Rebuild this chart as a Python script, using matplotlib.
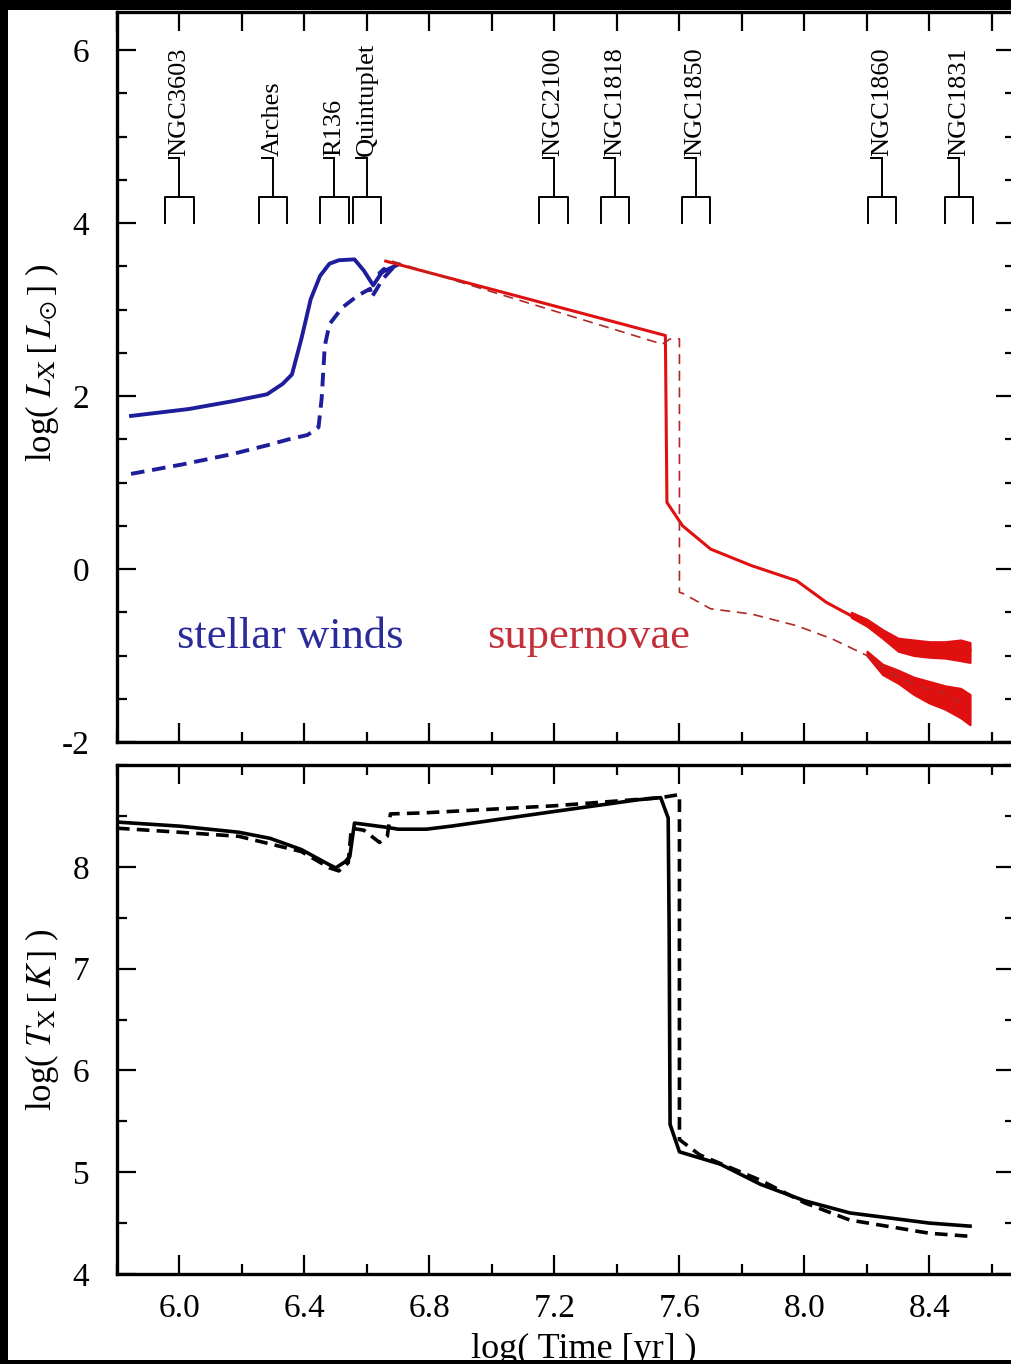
import numpy as np
import matplotlib.pyplot as plt
from matplotlib.patches import Rectangle
from matplotlib.ticker import MultipleLocator, FixedLocator

plt.rcParams['font.family'] = ['Liberation Serif', 'DejaVu Serif']
plt.rcParams['mathtext.fontset'] = 'stix'
plt.rcParams['axes.unicode_minus'] = False

# --- top panel: log L_X vs log age ---
wind_x = [5.845, 6.03, 6.17, 6.28, 6.33, 6.36, 6.39, 6.42, 6.45, 6.48, 6.51, 6.56, 6.59, 6.62, 6.655, 6.64, 6.70]
wind_y = [1.77, 1.85, 1.94, 2.02, 2.14, 2.25, 2.66, 3.12, 3.39, 3.53, 3.57, 3.58, 3.45, 3.28, 3.47, 3.42, 3.52]
wind2_x = [5.845, 6.01, 6.17, 6.28, 6.35, 6.41, 6.445, 6.455, 6.465, 6.48, 6.52, 6.57, 6.61, 6.615, 6.65, 6.685]
wind2_y = [1.10, 1.21, 1.33, 1.43, 1.50, 1.55, 1.64, 1.97, 2.58, 2.83, 3.02, 3.16, 3.24, 3.14, 3.35, 3.49]

sn_x = [6.66, 7.555, 7.56, 7.61, 7.70, 7.83, 7.975, 8.07, 8.17, 8.25, 8.32, 8.39, 8.53]
sn_y = [3.56, 2.70, 0.77, 0.50, 0.23, 0.04, -0.135, -0.385, -0.58, -0.77, -0.92, -0.91, -0.94]
sn2_x = [6.68, 7.545, 7.57, 7.60, 7.60, 7.61, 7.70, 7.83, 7.975, 8.09, 8.20, 8.27, 8.36, 8.44, 8.52]
sn2_y = [3.56, 2.60, 2.66, 2.66, -0.27, -0.28, -0.46, -0.52, -0.655, -0.81, -1.0, -1.19, -1.35, -1.43, -1.58]

# noisy tails (envelopes)
tail_x = [8.15, 8.20, 8.25, 8.30, 8.35, 8.40, 8.45, 8.50, 8.53]
tail_lo = [-0.56, -0.66, -0.80, -0.95, -1.00, -1.02, -1.03, -1.06, -1.08]
tail_hi = [-0.50, -0.58, -0.70, -0.80, -0.82, -0.84, -0.84, -0.82, -0.85]
tail2_x = [8.20, 8.25, 8.30, 8.35, 8.40, 8.45, 8.50, 8.53]
tail2_lo = [-1.00, -1.22, -1.32, -1.45, -1.55, -1.62, -1.72, -1.80]
tail2_hi = [-0.95, -1.10, -1.17, -1.25, -1.30, -1.35, -1.38, -1.45]

clusters = ['NGC3603', 'Arches', 'R136', 'Quintuplet', 'NGC2100', 'NGC1818', 'NGC1850', 'NGC1860', 'NGC1831']
cluster_age = [6.0, 6.298, 6.496, 6.60, 7.197, 7.394, 7.652, 8.249, 8.496]

# --- bottom panel: log T_X vs log age ---
t_x = [5.80, 6.00, 6.19, 6.29, 6.39, 6.48, 6.50, 6.53, 6.545, 6.56, 6.61, 6.66, 6.70, 6.79, 6.87, 7.19, 7.47,
       7.54, 7.564, 7.567, 7.57, 7.60, 7.73, 7.86, 8.0, 8.145, 8.40, 8.53]
t_y = [8.44, 8.40, 8.34, 8.28, 8.17, 8.02, 7.99, 8.05, 8.10, 8.43, 8.41, 8.39, 8.37, 8.37, 8.40, 8.54, 8.66,
       8.68, 8.48, 7.40, 5.47, 5.20, 5.08, 4.88, 4.72, 4.60, 4.50, 4.47]
t2_x = [5.80, 6.00, 6.19, 6.39, 6.48, 6.51, 6.54, 6.55, 6.59, 6.64, 6.665, 6.675, 6.78, 7.20, 7.54, 7.60,
        7.60, 7.665, 7.86, 8.0, 8.145, 8.40, 8.53]
t2_y = [8.38, 8.34, 8.30, 8.15, 7.99, 7.96, 8.04, 8.38, 8.36, 8.24, 8.30, 8.52, 8.53, 8.60, 8.68, 8.71,
        5.32, 5.17, 4.92, 4.70, 4.53, 4.40, 4.37]

blue = '#1e1e9c'
red = '#e01010'

fig = plt.figure(figsize=(10.12, 13.64), dpi=100, facecolor='black')
fig.add_artist(Rectangle((8 / 1012, 1 - 1360 / 1364), 1, 1350 / 1364, transform=fig.transFigure,
                         facecolor='white', edgecolor='none', zorder=-5))

ax1 = fig.add_axes([0.1156, 0.4560, 0.8874, 0.5352])
ax2 = fig.add_axes([0.1156, 0.0660, 0.8874, 0.3731])


def style(ax, ymaj, ymin):
    ax.set_xlim(5.8, 8.674)
    ax.xaxis.set_major_locator(MultipleLocator(0.4))
    ax.xaxis.set_minor_locator(MultipleLocator(0.2))
    ax.yaxis.set_major_locator(ymaj)
    ax.yaxis.set_minor_locator(MultipleLocator(ymin))
    ax.tick_params(which='both', direction='in', top=True, right=True, width=1.6, labelsize=24)
    ax.tick_params(which='major', length=14)
    ax.tick_params(which='minor', length=7)
    ax.tick_params(axis='y', pad=20)
    ax.tick_params(axis='x', pad=14)
    for s in ax.spines.values():
        s.set_linewidth(2.4)


style(ax1, FixedLocator([-2, 0, 2, 4, 6]), 0.5)
style(ax2, FixedLocator([4, 5, 6, 7, 8]), 0.5)
ax1.set_ylim(-2, 6.44)
ax2.set_ylim(4, 9)
ax1.tick_params(labelbottom=False, top=False)

# top side of upper panel: all ticks long
tw = ax1.twiny()
tw.set_xlim(ax1.get_xlim())
tw.xaxis.set_major_locator(MultipleLocator(0.2))
tw.tick_params(direction='in', length=14, width=1.6, labeltop=False)

ax1.plot(wind_x, wind_y, color=blue, lw=2.8)
ax1.plot(wind2_x, wind2_y, color=blue, lw=2.8, ls=(0, (3.5, 2)))
ax1.plot(sn_x, sn_y, color=red, lw=2.2)
ax1.plot(sn2_x, sn2_y, color='#b02828', lw=1.2, ls=(0, (6, 4)))
ax1.fill_between(tail_x, tail_lo, tail_hi, color=red, lw=1.5, edgecolor=red)
ax1.fill_between(tail2_x, tail2_lo, tail2_hi, color=red, lw=1.5, edgecolor=red)

for name, x in zip(clusters, cluster_age):
    ax1.plot([x - 0.045, x - 0.045, x + 0.045, x + 0.045], [4.0, 4.3, 4.3, 4.0], color='k', lw=1.4)
    ax1.plot([x, x], [4.3, 4.75], color='k', lw=1.4)
    ax1.plot([x - 0.035, x], [4.75, 4.75], color='k', lw=1.4)
    ax1.text(x, 4.78, name, rotation=90, ha='center', va='bottom', fontsize=19)

ax1.text(6.354, -0.79, 'stellar winds', color='#2a2a9a', fontsize=32, ha='center', va='center')
ax1.text(7.31, -0.79, 'supernovae', color='#c4303a', fontsize=32, ha='center', va='center')

ax1.set_ylabel(r'log( $L_{\mathrm{X}}\,[\,L_{\odot}\,]$ )', fontsize=25)
ax1.yaxis.set_label_coords(-0.062, 0.52)

ax2.plot(t_x, t_y, color='k', lw=2.6)
ax2.plot(t2_x, t2_y, color='k', lw=2.6, ls=(0, (3.5, 2)))
ax2.set_ylabel(r'log( $T_{\mathrm{X}}\,[\,K\,]$ )', fontsize=25)
ax2.yaxis.set_label_coords(-0.062, 0.5)
ax2.set_xlabel('log( Time [yr] )', fontsize=26)
ax2.xaxis.set_label_coords(0.52, -0.115)

fig.savefig('out.png', dpi=100, facecolor=fig.get_facecolor())
